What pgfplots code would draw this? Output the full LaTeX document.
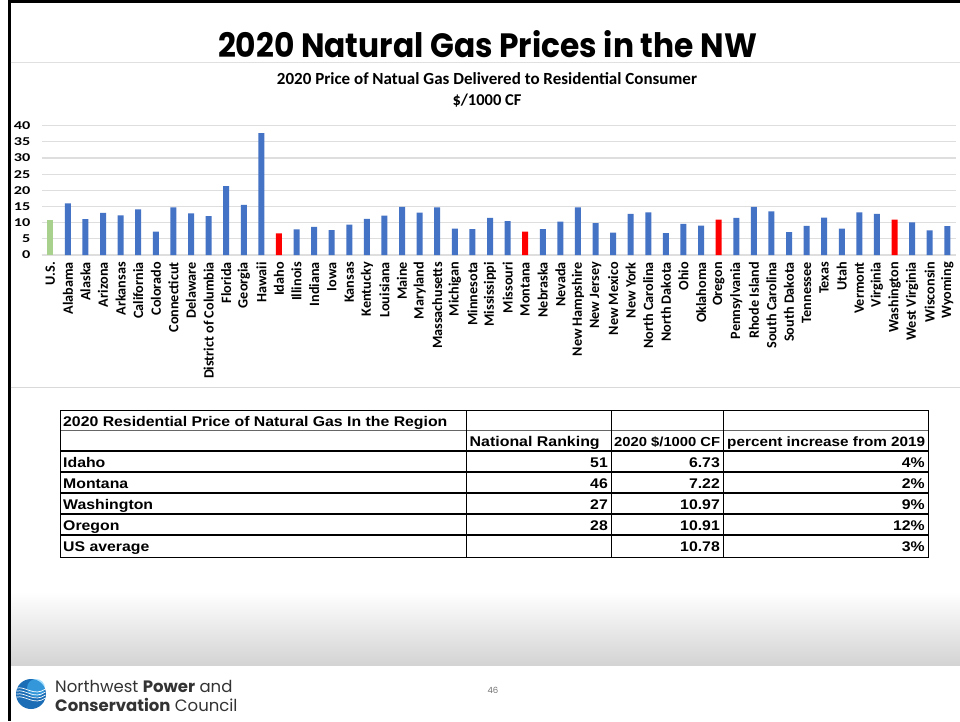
\documentclass[border=0pt]{standalone}
\usepackage{pgfplots}
\pgfplotsset{compat=1.18}
\usepackage{pgfplotstable}
\usepackage{graphicx}
\usepackage{fontspec}
\setmainfont{Carlito}
\newfontfamily\arialf[FakeStretch=1.13]{Liberation Sans}
\newfontfamily\gothic{Poppins}
\definecolor{barblue}{HTML}{4472C4}
\definecolor{barred}{HTML}{FF0000}
\definecolor{bargreen}{HTML}{A9D18E}
\definecolor{logoblue}{HTML}{1B6DB6}

\pgfplotstableread{
x y
0 10.78
}\usdata

\pgfplotstableread{
x y
13 6.73
27 7.22
38 10.91
48 10.97
}\nwdata

\pgfplotstableread{
x y
1 16.0
2 11.1
3 13.0
4 12.3
5 14.1
6 7.2
7 14.7
8 12.9
9 12.0
10 21.3
11 15.5
12 37.7
14 7.9
15 8.7
16 7.7
17 9.4
18 11.2
19 12.2
20 14.9
21 13.1
22 14.7
23 8.2
24 8.0
25 11.5
26 10.5
28 8.0
29 10.3
30 14.7
31 9.9
32 6.9
33 12.7
34 13.2
35 6.8
36 9.6
37 9.1
39 11.5
40 14.9
41 13.5
42 7.1
43 9.0
44 11.6
45 8.2
46 13.2
47 12.7
49 10.1
50 7.6
51 8.9
}\statedata

\begin{document}
\begin{tikzpicture}
\begin{scope}[x=1pt,y=-1pt]
\fill[white] (0,0) rectangle (960,721);
% bottom gradient band
\shade[top color=white,bottom color=black!17] (9,592) rectangle (960,665);
% frame
\fill[black] (8,0) rectangle (10.5,721);
\fill[black] (8,0) rectangle (960,3);
% separator lines
\draw[black!12, line width=1pt] (10.5,62) -- (960,62);
\draw[black!15, line width=1pt] (10.5,387) -- (960,387);
% titles
\node[anchor=base, inner sep=0pt] at (487.5,57) {\resizebox{539pt}{27pt}{\gothic\bfseries 2020 Natural Gas Prices in the NW}};
\node[anchor=base, inner sep=0pt] at (487,84.5) {\resizebox{420pt}{!}{\fontsize{15}{16}\selectfont\bfseries 2020 Price of Natual Gas Delivered to Residential Consumer}};
\node[anchor=base, inner sep=0pt, font=\fontsize{16.5}{17}\selectfont\bfseries] at (487,105.5) {\$/1000 CF};
% table
\begin{scope}[font=\arialf\bfseries\fontsize{14}{16}\selectfont, inner sep=0pt]
\draw[black, line width=0.8pt] (60.7,410.7) -- (928,410.7);
\draw[black!60, line width=0.8pt] (60.7,430.3) -- (928,430.3);
\draw[black, line width=1.8pt] (60.7,450.7) -- (928,450.7);
\draw[black, line width=1.8pt] (60.7,471.7) -- (928,471.7);
\draw[black, line width=1.8pt] (60.7,492.7) -- (928,492.7);
\draw[black, line width=1.8pt] (60.7,513.7) -- (928,513.7);
\draw[black, line width=2.6pt] (60.7,535) -- (928,535);
\draw[black, line width=1.6pt] (60.7,557.3) -- (928,557.3);
\foreach \cx in {60.7,466,611,723,928} {\draw[black, line width=0.9pt] (\cx,410.3) -- (\cx,558);}
\node[anchor=base west] at (63,426) {2020 Residential Price of Natural Gas In the Region};
\node[anchor=base west] at (469.5,446.5) {\resizebox{130pt}{!}{National Ranking}};
\node[anchor=base west] at (614,446.5) {\resizebox{106pt}{!}{2020 \$/1000 CF}};
\node[anchor=base west] at (727,446.5) {\resizebox{198pt}{!}{percent increase from 2019}};
\node[anchor=base west] at (63,467) {Idaho};
\node[anchor=base west] at (63,488.3) {Montana};
\node[anchor=base west] at (63,509.3) {Washington};
\node[anchor=base west] at (63,530) {Oregon};
\node[anchor=base west] at (63,551.5) {US average};
\node[anchor=base east] at (608,467) {51};
\node[anchor=base east] at (608,488.3) {46};
\node[anchor=base east] at (608,509.3) {27};
\node[anchor=base east] at (608,530) {28};
\node[anchor=base east] at (720,467) {6.73};
\node[anchor=base east] at (720,488.3) {7.22};
\node[anchor=base east] at (720,509.3) {10.97};
\node[anchor=base east] at (720,530) {10.91};
\node[anchor=base east] at (720,551.5) {10.78};
\node[anchor=base east] at (925,467) {4\%};
\node[anchor=base east] at (925,488.3) {2\%};
\node[anchor=base east] at (925,509.3) {9\%};
\node[anchor=base east] at (925,530) {12\%};
\node[anchor=base east] at (925,551.5) {3\%};
\end{scope}
% footer
\fill[logoblue] (31,694) circle (15);
\fill[blue!35!cyan!70!white, opacity=0.5] (36,688) circle (9);
\foreach \d in {0,3,6,9} {
  \draw[white, line width=0.7pt] (16.5,688+\d) .. controls (26,686+\d) and (34,697+\d) .. (45.5,689+\d);
}
\node[anchor=base west, inner sep=0pt, font=\gothic\fontsize{16.5}{18}\selectfont, text=black!80] at (55,692) {Northwest {\bfseries Power} and};
\node[anchor=base west, inner sep=0pt, font=\gothic\fontsize{16.5}{18}\selectfont, text=black!80] at (55,711.5) {{\bfseries Conservation} Council};
\node[anchor=base, inner sep=0pt, font=\gothic\fontsize{8.5}{9}\selectfont, text=black!55] at (493,693) {46};
\end{scope}

\begin{axis}[
  at={(41.5pt,-255pt)}, anchor=south west,
  scale only axis, width=914.6pt, height=129.3pt,
  xmin=-0.5, xmax=51.5, ymin=0, ymax=40,
  ytick={0,5,...,40},
  xtick={0,...,51},
  xticklabels={U.S.,Alabama,Alaska,Arizona,Arkansas,California,Colorado,Connecticut,Delaware,District of Columbia,Florida,Georgia,Hawaii,Idaho,Illinois,Indiana,Iowa,Kansas,Kentucky,Louisiana,Maine,Maryland,Massachusetts,Michigan,Minnesota,Mississippi,Missouri,Montana,Nebraska,Nevada,New Hampshire,New Jersey,New Mexico,New York,North Carolina,North Dakota,Ohio,Oklahoma,Oregon,Pennsylvania,Rhode Island,South Carolina,South Dakota,Tennessee,Texas,Utah,Vermont,Virginia,Washington,West Virginia,Wisconsin,Wyoming},
  axis line style={draw=none},
  major tick length=0pt,
  ymajorgrids, grid style={draw=black!13, line width=1.1pt},
  ybar, bar width=6pt, bar shift=0pt,
  /pgf/number format/assume math mode=true,
  xticklabel style={font=\fontsize{14.2}{15}\selectfont\bfseries, rotate=90, anchor=east, inner sep=0pt, xshift=-7pt},
  yticklabel style={font=\fontsize{12}{13}\selectfont\bfseries, anchor=east, inner sep=0pt, xshift=-11pt},
  yticklabel={\scalebox{1.35}[1]{\pgfmathprintnumber{\tick}}},
  clip=false,
]
\addplot[fill=bargreen, draw=none] table {\usdata};
\addplot[fill=barblue, draw=none] table {\statedata};
\addplot[fill=barred, draw=none] table {\nwdata};
\end{axis}
\pgfresetboundingbox
\path (0,0) rectangle (960pt,-721pt);
\end{tikzpicture}
\end{document}
